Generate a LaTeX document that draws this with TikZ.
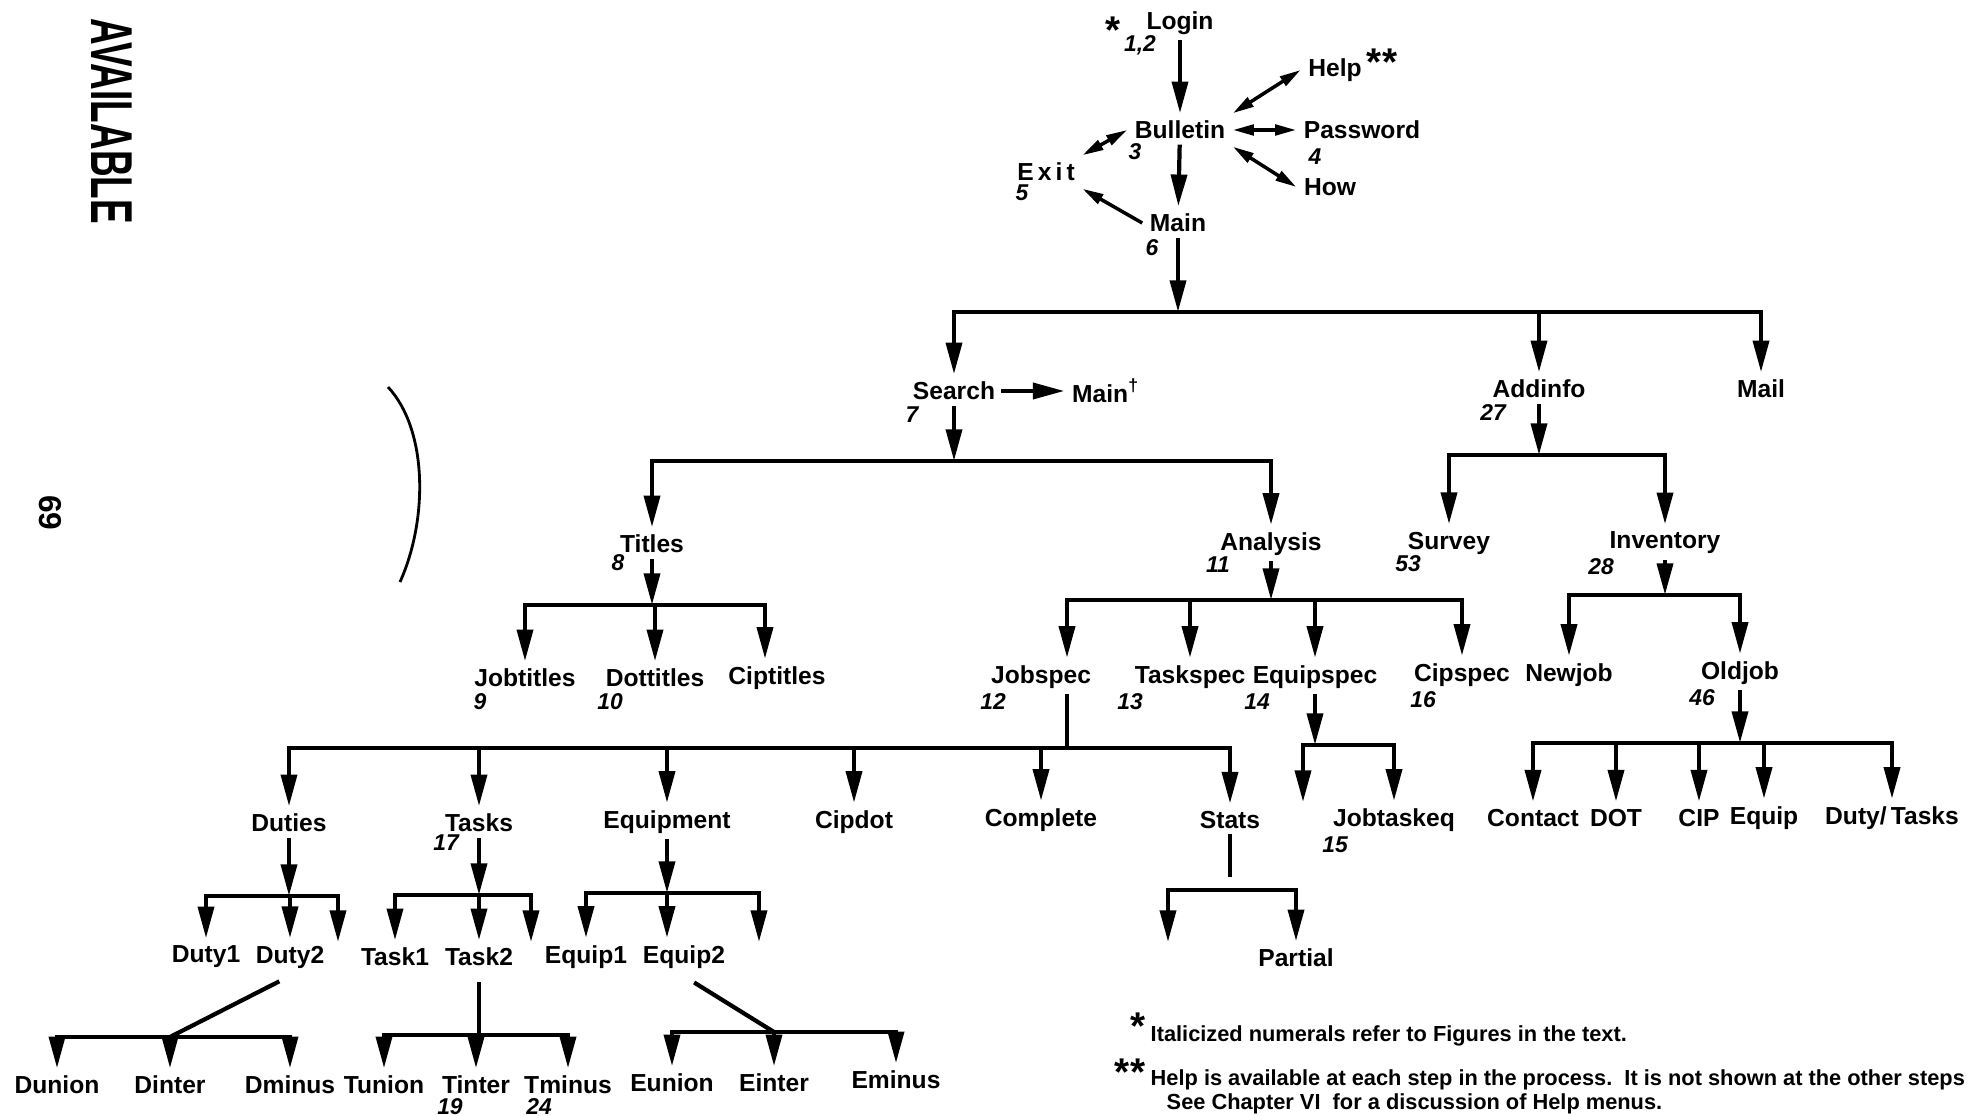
\documentclass[tikz,border=0pt]{standalone}
\usepackage{fontspec}
\usepackage{graphicx}
\setmainfont{Liberation Sans}
\usetikzlibrary{arrows.meta}

\tikzset{
	lbl/.style={font=\bfseries\fontsize{7}{8}\selectfont, inner sep=2pt},
	num/.style={font=\bfseries\itshape\fontsize{6.5}{7}\selectfont, inner sep=0pt},
	star/.style={font=\bfseries\fontsize{11}{11}\selectfont, inner sep=0pt},
	note/.style={font=\bfseries\fontsize{6.2}{7}\selectfont, inner sep=0pt, anchor=west},
	wire/.style={line width=1.2pt, line cap=rect},
	down/.style={wire, -{Triangle[length=9pt,width=4.5pt]}},
	dbl/.style={line width=1pt, {Triangle[length=6pt,width=3pt]}-{Triangle[length=6pt,width=3pt]}},
	one/.style={line width=1pt, -{Triangle[length=6pt,width=3pt]}},
}

\begin{document}
\begin{tikzpicture}[x=0.01cm, y=-0.01cm]
	\fill[white] (0,0) rectangle (1984,1116);
	\useasboundingbox (0,0) rectangle (1984,1116);

	% margin marks
	\node[font=\bfseries\fontsize{10.5}{11}\selectfont, rotate=-90, inner sep=0pt] (avail) at (112,121) {\scalebox{1}[1.6]{AVAILABLE}};
	\node[font=\bfseries\fontsize{9}{9}\selectfont, rotate=-90, inner sep=0pt] (page) at (50,513) {69};
	\draw[line width=0.8pt] (388,387) .. controls (428,430) and (428,520) .. (400,582);

	% login menu
	\node[lbl] (login) at (1180,23) {Login};
	\node[lbl] (bulletin) at (1180,130) {Bulletin};
	\node[lbl] (help) at (1335,70) {Help};
	\node[lbl] (passwd) at (1362,130) {Password};
	\node[lbl] (how) at (1330,187) {How};
	\node[lbl] (exit) at (1046,172) {E\,x\,i\,t};
	\node[lbl] (main) at (1178,223) {Main};

	\node[star] (lstar) at (1113,30) {*};
	\node[num] (n12) at (1140,45) {1,2};
	\node[star] (hstar) at (1382,62) {**};
	\node[num] (n3) at (1135,152) {3};
	\node[num] (n4) at (1315,157) {4};
	\node[num] (n5) at (1022,193) {5};
	\node[num] (n6) at (1152,248) {6};

	\draw[down] (login) -- (bulletin);
	\draw[down] (bulletin) -- (main);
	\draw[dbl] (bulletin.north east) -- (help.west);
	\draw[dbl] (bulletin.east) -- (passwd.west);
	\draw[dbl] (bulletin.south east) -- (how.west);
	\draw[dbl] (bulletin.west) -- (exit.north east);
	\draw[one] (main.west) -- (exit.south east);

	% main menu
	\node[lbl] (search) at (954,391) {Search};
	\node[lbl] (mainb) at (1106,391) {Main\textsuperscript{†}};
	\node[lbl] (addinfo) at (1539,389) {Addinfo};
	\node[lbl] (mail) at (1761,389) {Mail};
	\node[num] (n7) at (912,415) {7};
	\node[num] (n27) at (1493,413) {27};

	\coordinate (b1) at (0,312);
	\draw[down] (main) -- (main |- b1);
	\draw[wire] (search |- b1) -- (mail |- b1);
	\foreach \nd in {search, addinfo, mail}
		\draw[down] (\nd |- b1) -- (\nd);
	\draw[down] (search) -- (mainb);

	% search
	\node[lbl] (titles) at (652,544) {Titles};
	\node[lbl] (analysis) at (1271,544) {Analysis};
	\node[num] (n8) at (618,563) {8};
	\node[num] (n11) at (1218,565) {11};

	\coordinate (b2) at (0,461);
	\draw[down] (search) -- (search |- b2);
	\draw[wire] (titles |- b2) -- (analysis |- b2);
	\foreach \nd in {titles, analysis}
		\draw[down] (\nd |- b2) -- (\nd);

	% addinfo
	\node[lbl] (survey) at (1449,543) {Survey};
	\node[lbl] (inventory) at (1665,543) {Inventory};
	\node[num] (n53) at (1408,564) {53};
	\node[num] (n28) at (1601,567) {28};

	\coordinate (b3) at (0,455);
	\draw[down] (addinfo) -- (addinfo |- b3);
	\draw[wire] (survey |- b3) -- (inventory |- b3);
	\foreach \nd in {survey, inventory}
		\draw[down] (\nd |- b3) -- (\nd);

	% titles
	\node[lbl] (jobtitles) at (525,678) {Jobtitles};
	\node[lbl] (dottitles) at (655,678) {Dottitles};
	\node[lbl] (ciptitles) at (777,678) {Ciptitles};
	\coordinate (ciptitlesx) at ([xshift=-0.12cm]ciptitles.center);
	\node[num] (n9) at (480,702) {9};
	\node[num] (n10) at (610,702) {10};

	\coordinate (b4) at (0,605);
	\draw[down] (titles) -- (titles |- b4);
	\draw[wire] (jobtitles |- b4) -- (ciptitlesx |- b4);
	\foreach \nd in {jobtitles, dottitles}
		\draw[down] (\nd |- b4) -- (\nd);
	\draw[down] (ciptitlesx |- b4) -- (ciptitlesx |- ciptitles.north);

	% analysis
	\node[lbl] (jobspec) at (1041,677) {Jobspec};
	\coordinate (jobspecx) at ([xshift=0.26cm]jobspec.center);
	\node[lbl] (taskspec) at (1190,677) {Taskspec};
	\node[lbl] (equipspec) at (1315,677) {Equipspec};
	\node[lbl] (cipspec) at (1462,675) {Cipspec};
	\node[num] (n12b) at (993,702) {12};
	\node[num] (n13) at (1130,702) {13};
	\node[num] (n14) at (1257,702) {14};
	\node[num] (n16) at (1423,700) {16};

	\coordinate (b5) at (0,600);
	\draw[down] (analysis) -- (analysis |- b5);
	\draw[wire] (jobspecx |- b5) -- (cipspec |- b5);
	\draw[down] (jobspecx |- b5) -- (jobspecx |- jobspec.north);
	\foreach \nd in {taskspec, equipspec, cipspec}
		\draw[down] (\nd |- b5) -- (\nd);

	% inventory
	\node[lbl] (newjob) at (1569,675) {Newjob};
	\node[lbl] (oldjob) at (1740,673) {Oldjob};
	\node[num] (n46) at (1702,698) {46};

	\coordinate (b6) at (0,595);
	\draw[down] (inventory) -- (inventory |- b6);
	\draw[wire] (newjob |- b6) -- (oldjob |- b6);
	\foreach \nd in {newjob, oldjob}
		\draw[down] (\nd |- b6) -- (\nd);

	% oldjob
	\node[lbl] (contact) at (1533,818) {Contact};
	\node[lbl] (dot) at (1616,818) {DOT};
	\node[lbl] (cip) at (1699,818) {CIP};
	\node[lbl] (equip) at (1764,818) {Equip};
	\node[lbl] (dutytasks) at (1892,818) {Duty/\,Tasks};

	\coordinate (b7) at (0,743);
	\draw[down] (oldjob) -- (oldjob |- b7);
	\draw[wire] (contact |- b7) -- (dutytasks |- b7);
	\foreach \nd in {contact, dot, cip, equip, dutytasks}
		\draw[down] (\nd |- b7) -- (\nd);

	% jobspec
	\node[lbl] (duties) at (289,823) {Duties};
	\node[lbl] (tasks) at (479,823) {Tasks};
	\node[lbl] (equipment) at (667,822) {Equipment};
	\node[lbl] (cipdot) at (854,822) {Cipdot};
	\node[lbl] (complete) at (1041,820) {Complete};
	\node[lbl] (stats) at (1230,820) {Stats};
	\node[num] (n17) at (446,843) {17};

	\coordinate (b8) at (0,748);
	\draw[wire] (jobspecx |- jobspec.south) -- (jobspecx |- b8);
	\draw[wire] (duties |- b8) -- (stats |- b8);
	\foreach \nd in {duties, tasks, equipment, cipdot, complete, stats}
		\draw[down] (\nd |- b8) -- (\nd);

	% equipspec
	\node[lbl] (jobtaskeq) at (1394,820) {Jobtaskeq};
	\node[num] (n15) at (1335,845) {15};
	\coordinate (eqspx) at (1303,802);

	\coordinate (b9) at (0,745);
	\draw[down] (equipspec) -- (equipspec |- b9);
	\draw[wire] (eqspx |- b9) -- (jobtaskeq |- b9);
	\draw[down] (eqspx |- b9) -- (eqspx);
	\draw[down] (jobtaskeq |- b9) -- (jobtaskeq);

	% duties, tasks, equipment
	\node[lbl] (duty1) at (206,957) {Duty1};
	\node[lbl] (duty2) at (290,957) {Duty2};
	\node[lbl] (task1) at (395,957) {Task1};
	\node[lbl] (task2) at (479,957) {Task2};
	\node[lbl] (equip1) at (586,957) {Equip1};
	\node[lbl] (equip2) at (684,957) {Equip2};
	\coordinate (equip2x) at ([xshift=-0.17cm]equip2.center);
	\coordinate (dutyx) at (338,942);
	\coordinate (taskx) at (531,942);
	\coordinate (equipx) at (759,942);

	\coordinate (b10) at (0,896);
	\draw[down] (duties) -- (duties |- b10);
	\draw[wire] (duty1 |- b10) -- (dutyx |- b10);
	\foreach \nd in {duty1, duty2}
		\draw[down] (\nd |- b10) -- (\nd);
	\draw[down] (dutyx |- b10) -- (dutyx);

	\coordinate (b11) at (0,895);
	\draw[down] (tasks) -- (tasks |- b11);
	\draw[wire] (task1 |- b11) -- (taskx |- b11);
	\foreach \nd in {task1, task2}
		\draw[down] (\nd |- b11) -- (\nd);
	\draw[down] (taskx |- b11) -- (taskx);

	\coordinate (b12) at (0,893);
	\draw[down] (equipment) -- (equipment |- b12);
	\draw[wire] (equip1 |- b12) -- (equipx |- b12);
	\draw[down] (equip1 |- b12) -- (equip1);
	\draw[down] (equip2x |- b12) -- (equip2x |- equip2.north);
	\draw[down] (equipx |- b12) -- (equipx);

	% stats
	\node[lbl] (partial) at (1296,958) {Partial};
	\coordinate (statsx) at (1168,942);
	\coordinate (b13) at (0,890);
	\coordinate (b13s) at (0,875);
	\draw[wire] (stats) -- (stats |- b13s);
	\draw[wire] (statsx |- b13) -- (partial |- b13);
	\draw[down] (statsx |- b13) -- (statsx);
	\draw[down] (partial |- b13) -- (partial);

	% set operations
	\node[lbl] (dunion) at (57,1085) {Dunion};
	\node[lbl] (dinter) at (170,1085) {Dinter};
	\node[lbl] (dminus) at (290,1085) {Dminus};
	\node[lbl] (tunion) at (384,1085) {Tunion};
	\node[lbl] (tinter) at (476,1085) {Tinter};
	\node[lbl] (tminus) at (568,1085) {Tminus};
	\node[lbl] (eunion) at (672,1083) {Eunion};
	\node[lbl] (einter) at (774,1083) {Einter};
	\node[lbl] (eminus) at (896,1080) {Eminus};
	\node[num] (n19) at (450,1107) {19};
	\node[num] (n24) at (539,1107) {24};

	\coordinate (b14) at (0,1037);
	\draw[wire, shorten <=4pt] (duty2.south) -- (dinter |- b14);
	\draw[wire] (dunion |- b14) -- (dminus |- b14);
	\foreach \nd in {dunion, dinter, dminus}
		\draw[down] (\nd |- b14) -- (\nd);

	\coordinate (b15) at (0,1035);
	\draw[wire, shorten <=3pt] (task2) -- (task2 |- b15);
	\draw[wire] (tunion |- b15) -- (tminus |- b15);
	\foreach \nd in {tunion, tinter, tminus}
		\draw[down] (\nd |- b15) -- (\nd);

	\coordinate (b16) at (0,1032);
	\draw[wire, shorten <=4pt] (equip2.south) -- (einter |- b16);
	\draw[wire] (eunion |- b16) -- (eminus |- b16);
	\foreach \nd in {eunion, einter, eminus}
		\draw[down] (\nd |- b16) -- (\nd);

	% footnotes
	\node[star] (fstar) at (1138,1026) {*};
	\node[note] (note1) at (1150,1036) {Italicized numerals refer to Figures in the text.};
	\node[star] (fstars) at (1130,1072) {**};
	\node[note] (note2) at (1150,1080) {Help is available at each step in the process.\ \ It is not shown at the other steps};
	\node[note] (note3) at (1166,1104) {See Chapter VI\ \ for a discussion of Help menus.};
\end{tikzpicture}
\end{document}
